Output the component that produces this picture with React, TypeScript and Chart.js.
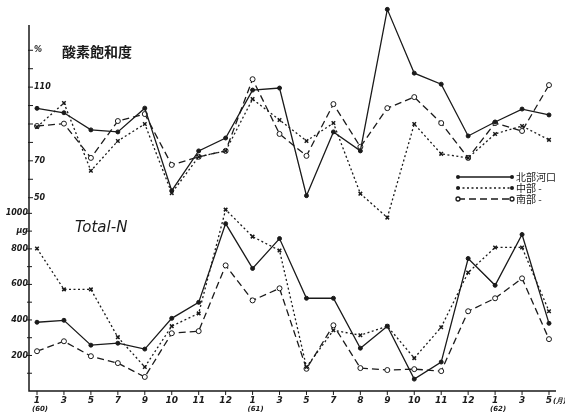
import React, { useEffect, useRef } from 'react';
import { Chart, registerables } from 'chart.js';
Chart.register(...registerables);

// x categories (month) and year marks
const months = ['1', '3', '5', '7', '9', '10', '11', '12', '1', '3', '5', '7', '8', '9', '10', '11', '12', '1', '3', '5'];
const yearMarks = ['(60)', '', '', '', '', '', '', '', '(61)', '', '', '', '', '', '', '', '', '(62)', '', '(月)'];

// Oxygen saturation (%)
const o2North = [98.5, 96.1, 86.8, 85.7, 98.6, 53.8, 75.4, 82.4, 108.4, 109.5, 51.1, 85.7, 75.4, 152.2, 117.6, 111.6, 83.5, 91.1, 98.1, 94.9];
const o2Middle = [88.4, 101.4, 64.6, 80.8, 90.0, 52.5, 72.2, 75.4, 103.5, 92.2, 80.8, 90.5, 52.2, 39.2, 90.0, 73.8, 71.6, 84.6, 88.9, 81.4];
const o2South = [88.9, 90.2, 71.6, 91.6, 95.4, 67.8, 72.2, 75.4, 114.3, 84.6, 72.7, 100.8, 77.6, 98.6, 104.6, 90.5, 71.6, 90.5, 86.2, 111.1];

// Total-N
const tnNorth = [387, 398, 258, 269, 236, 409, 499, 942, 690, 858, 522, 522, 241, 365, 67, 163, 746, 595, 881, 381];
const tnMiddle = [802, 572, 572, 303, 135, 365, 437, 1021, 869, 791, 135, 342, 314, 365, 185, 359, 667, 808, 808, 449];
const tnSouth = [224, 280, 196, 157, 79, 325, 337, 707, 510, 578, 125, 370, 129, 118, 123, 112, 449, 522, 634, 292];

// axis ticks
const o2Ticks = [50, 60, 70, 80, 90, 100, 110, 120, 130];
const o2TickLabels = ['50', '', '70', '', '', '', '110', '', '%'];
const tnTicks = [100, 200, 300, 400, 500, 600, 700, 800, 900, 1000];
const tnTickLabels = ['', '200', '', '400', '', '600', '', '800', 'μg', '1000'];

const seriesNames = ['北部河口', '中部', '南部'];
const o2Title = '酸素飽和度';
const tnTitle = 'Total-N';

const pts = (arr: number[]) => arr.map((v, i) => ({ x: i, y: v }));

const dashes = [[], [2, 2.5], [7, 4]];

export default function App() {
  const ref = useRef<HTMLCanvasElement | null>(null);
  useEffect(() => {
    if (!ref.current) return;
    const base = { borderColor: '#1a1a1a', borderWidth: 1.3, pointBorderColor: '#1a1a1a', tension: 0 };
    const mk = (arr: number[], axis: string, k: number) => ({
      ...base,
      data: pts(arr),
      yAxisID: axis,
      borderDash: dashes[k],
      pointStyle: k === 1 ? 'crossRot' : 'circle',
      pointRadius: k === 0 ? 2 : 2.5,
      pointBorderWidth: k === 1 ? 1.5 : 1,
      pointBackgroundColor: k === 2 ? '#ffffff' : '#1a1a1a',
      label: seriesNames[k],
    });

    const axesPlugin = {
      id: 'handAxes',
      afterDraw(chart: any) {
        const ctx = chart.ctx;
        const { left, bottom, right } = chart.chartArea;
        const xs = chart.scales.x;
        const y1 = chart.scales.y1;
        const y2 = chart.scales.y2;
        ctx.save();
        ctx.strokeStyle = '#1a1a1a';
        ctx.fillStyle = '#1a1a1a';
        ctx.setLineDash([]);
        ctx.lineWidth = 1.5;
        // axes
        ctx.beginPath();
        ctx.moveTo(left, 25);
        ctx.lineTo(left, bottom);
        ctx.lineTo(right, bottom);
        ctx.stroke();
        ctx.lineWidth = 1;
        // upper ticks
        ctx.font = 'italic bold 8px "DejaVu Sans"';
        ctx.textBaseline = 'middle';
        o2Ticks.forEach((t, i) => {
          const y = y1.getPixelForValue(t);
          ctx.beginPath();
          ctx.moveTo(left - 1, y);
          ctx.lineTo(left + 4, y);
          ctx.stroke();
          if (o2TickLabels[i]) {
            ctx.textAlign = 'left';
            ctx.fillText(o2TickLabels[i], left + 5, y);
          }
        });
        tnTicks.forEach((t, i) => {
          const y = y2.getPixelForValue(t);
          ctx.beginPath();
          ctx.moveTo(left - 2, y);
          ctx.lineTo(left + 3, y);
          ctx.stroke();
          if (tnTickLabels[i]) {
            ctx.textAlign = 'right';
            ctx.fillText(tnTickLabels[i], left - 1, y);
          }
        });
        // x ticks
        ctx.font = 'italic bold 9px "DejaVu Sans"';
        months.forEach((m, i) => {
          const x = xs.getPixelForValue(i);
          ctx.beginPath();
          ctx.moveTo(x, bottom);
          ctx.lineTo(x, bottom + 4);
          ctx.stroke();
          ctx.textAlign = 'center';
          ctx.textBaseline = 'middle';
          ctx.fillText(m, x, bottom + 10);
          if (yearMarks[i]) {
            ctx.font = 'italic bold 7px "DejaVu Sans"';
            if (i === months.length - 1) {
              ctx.textAlign = 'left';
              ctx.fillText(yearMarks[i], x + 4, bottom + 10);
            } else {
              ctx.fillText(yearMarks[i], x + 3, bottom + 18);
            }
            ctx.font = 'italic bold 9px "DejaVu Sans"';
          }
        });
        // titles
        ctx.textAlign = 'left';
        ctx.textBaseline = 'middle';
        ctx.font = 'bold 14px "Noto Sans CJK JP"';
        ctx.fillText(o2Title, 62, 52);
        ctx.font = 'italic 15px "DejaVu Sans"';
        ctx.fillText(tnTitle, 75, 228);
        // legend
        const lx0 = 458, lx1 = 512;
        const ly = [177, 188, 199];
        ctx.font = '10px "Noto Sans CJK JP"';
        for (let k = 0; k < 3; k++) {
          ctx.setLineDash(dashes[k]);
          ctx.lineWidth = 1.3;
          ctx.beginPath();
          ctx.moveTo(lx0, ly[k]);
          ctx.lineTo(lx1, ly[k]);
          ctx.stroke();
          ctx.setLineDash([]);
          [lx0, lx1].forEach((px) => {
            ctx.beginPath();
            ctx.arc(px, ly[k], 2, 0, Math.PI * 2);
            if (k === 2) {
              ctx.fillStyle = '#fff';
              ctx.fill();
              ctx.fillStyle = '#1a1a1a';
              ctx.stroke();
            } else {
              ctx.fill();
            }
          });
          ctx.fillText(seriesNames[k] + (k > 0 ? ' -' : ''), lx1 + 4, ly[k]);
        }
        ctx.restore();
      },
    };

    const chart = new Chart(ref.current, {
      type: 'line',
      data: {
        datasets: [
          mk(o2North, 'y1', 0),
          mk(o2Middle, 'y1', 1),
          mk(o2South, 'y1', 2),
          mk(tnNorth, 'y2', 0),
          mk(tnMiddle, 'y2', 1),
          mk(tnSouth, 'y2', 2),
        ] as any,
      },
      options: {
        animation: false,
        responsive: false,
        devicePixelRatio: 1,
        layout: { padding: { left: 29, right: 9, top: 4, bottom: 21 } },
        plugins: { legend: { display: false }, tooltip: { enabled: false } },
        scales: {
          x: { type: 'linear', min: -0.297, max: 19.26, display: false },
          y1: { type: 'linear', min: -54.9, max: 154.3, display: false },
          y2: { type: 'linear', min: 0, max: 2170, display: false },
        },
      },
      plugins: [axesPlugin],
    });
    return () => chart.destroy();
  }, []);

  return (
    <div style={{ position: 'absolute', left: 0, top: 0, width: 565, height: 412, background: '#fff' }}>
      <canvas ref={ref} width={565} height={412} style={{ display: 'block' }} />
    </div>
  );
}
